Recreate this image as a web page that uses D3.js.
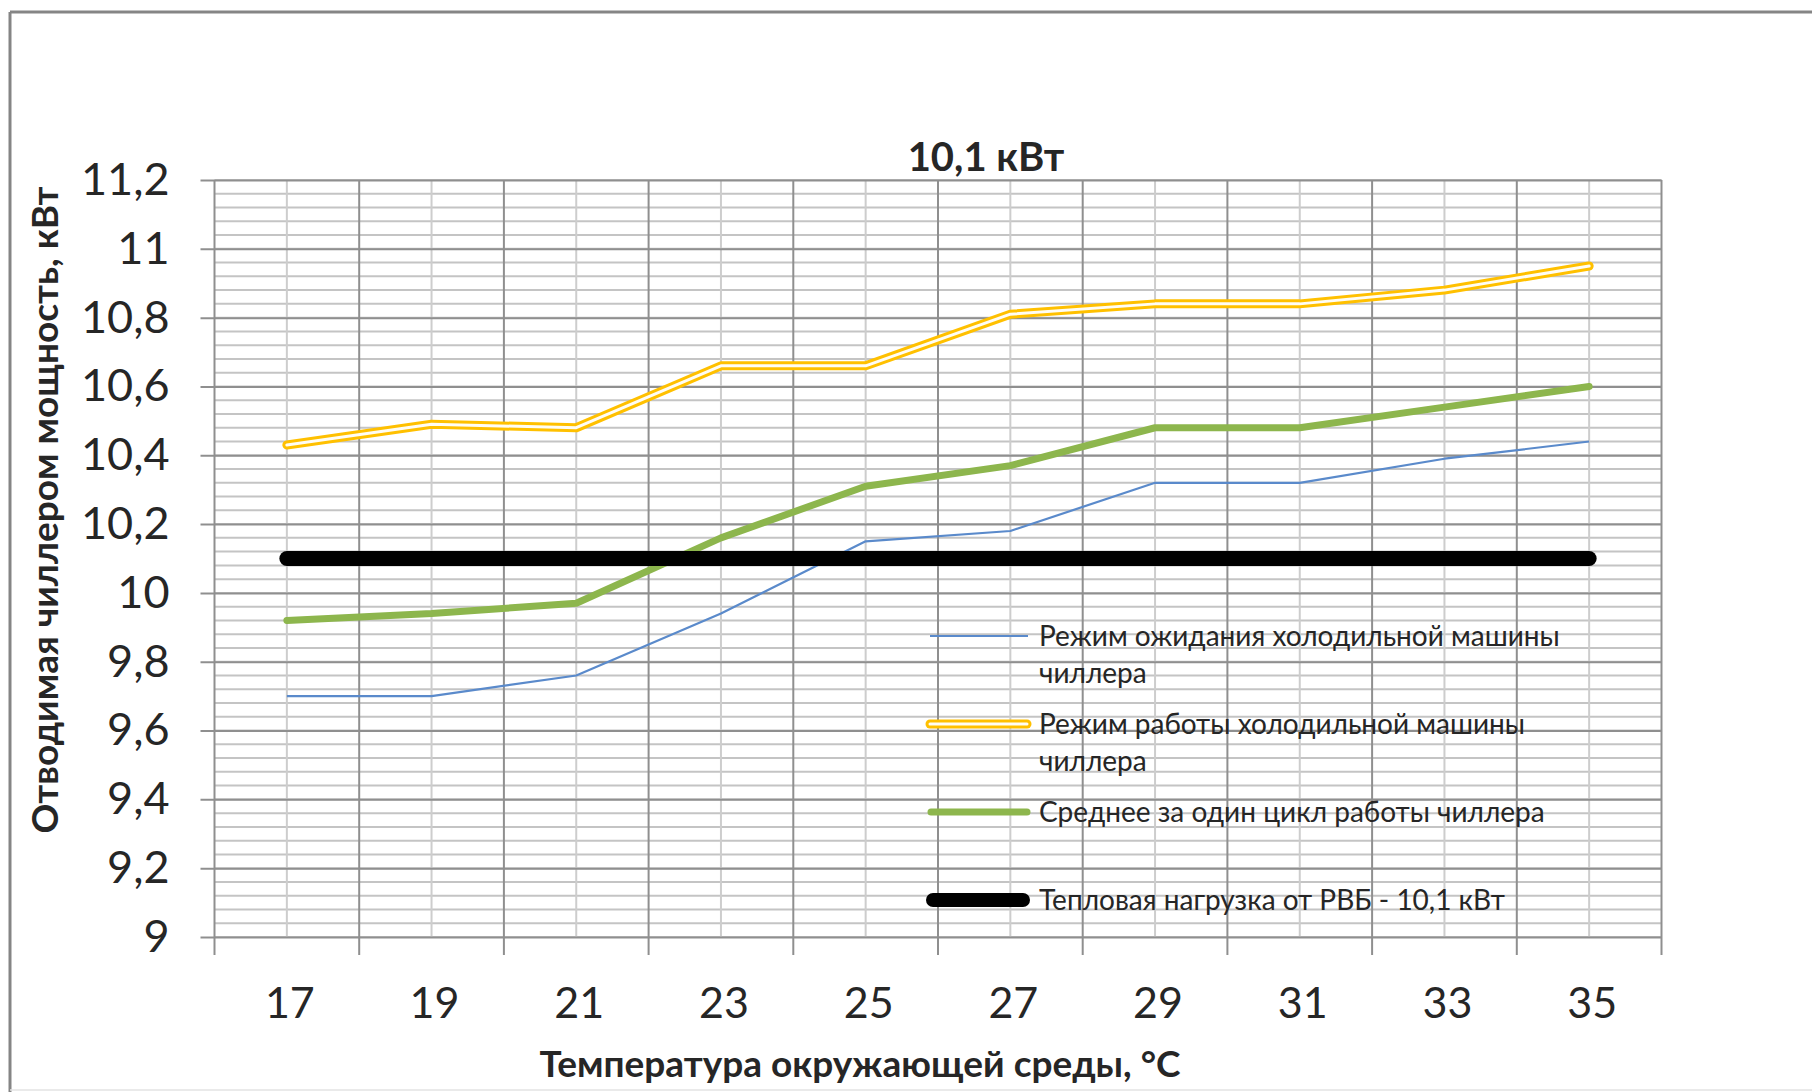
<!DOCTYPE html>
<html>
<head>
<meta charset="utf-8">
<script src="https://cdn.jsdelivr.net/npm/d3@7"></script>
<style>
  body { margin: 0; background: #fff; }
  text { font-family: Lato, "Open Sans", sans-serif; fill: #262626; }
</style>
</head>
<body>
<script>
// temperatures on the category axis
const temps = [17, 19, 21, 23, 25, 27, 29, 31, 33, 35];

// series, kW
const standby = [9.70, 9.70, 9.76, 9.94, 10.15, 10.18, 10.32, 10.32, 10.39, 10.44];
const working = [10.43, 10.49, 10.48, 10.66, 10.66, 10.81, 10.84, 10.84, 10.88, 10.95];
const average = [9.92, 9.94, 9.97, 10.16, 10.31, 10.37, 10.48, 10.48, 10.54, 10.60];
const heatLoad = [10.1, 10.1, 10.1, 10.1, 10.1, 10.1, 10.1, 10.1, 10.1, 10.1];

const yTicks = [9, 9.2, 9.4, 9.6, 9.8, 10, 10.2, 10.4, 10.6, 10.8, 11, 11.2];
const yMinorStep = 0.04;

const legendLabels = [
  ["Режим ожидания холодильной машины", "чиллера"],
  ["Режим работы холодильной машины", "чиллера"],
  ["Среднее за один цикл работы чиллера"],
  ["Тепловая нагрузка от РВБ - 10,1 кВт"]
];

const w = 1812, h = 1092;
const plot = { left: 214.5, right: 1661.5, top: 180, bottom: 937 };

const svg = d3.select("body")
  .append("svg")
  .attr("width", w)
  .attr("height", h);

// outer chart frame
svg.append("line").attr("x1", 10).attr("y1", 12).attr("x2", w).attr("y2", 12)
  .attr("stroke", "#858585").attr("stroke-width", 3);
svg.append("line").attr("x1", 10).attr("y1", 12).attr("x2", 10).attr("y2", h)
  .attr("stroke", "#858585").attr("stroke-width", 3);
svg.append("line").attr("x1", 10).attr("y1", 1090).attr("x2", w).attr("y2", 1090)
  .attr("stroke", "#e3e3e3").attr("stroke-width", 1.5);

const x = d3.scaleBand()
  .domain(temps)
  .range([plot.left, plot.right])
  .padding(0);
const cx = d => x(d) + x.bandwidth() / 2;

const y = d3.scaleLinear()
  .domain([9, 11.2])
  .range([plot.bottom, plot.top]);

const grid = svg.append("g");

// minor horizontal gridlines
const minorY = d3.range(0, Math.round((11.2 - 9) / yMinorStep) + 1).map(i => 9 + i * yMinorStep);
grid.selectAll(".minor-y")
  .data(minorY)
  .enter()
  .append("line")
  .attr("x1", plot.left).attr("x2", plot.right)
  .attr("y1", d => y(d)).attr("y2", d => y(d))
  .attr("stroke", "#c4c4c4")
  .attr("stroke-width", 2);

// minor vertical gridlines (category centres)
grid.selectAll(".minor-x")
  .data(temps)
  .enter()
  .append("line")
  .attr("x1", d => cx(d)).attr("x2", d => cx(d))
  .attr("y1", plot.top).attr("y2", plot.bottom)
  .attr("stroke", "#cdcdcd")
  .attr("stroke-width", 2);

// major vertical gridlines (category boundaries)
const bounds = temps.map(d => x(d)).concat([plot.right]);
grid.selectAll(".major-x")
  .data(bounds)
  .enter()
  .append("line")
  .attr("x1", d => d).attr("x2", d => d)
  .attr("y1", plot.top).attr("y2", plot.bottom + 18)
  .attr("stroke", "#8f8f8f")
  .attr("stroke-width", 2);

// major horizontal gridlines + y axis
const yAxis = d3.axisLeft(y)
  .tickValues(yTicks)
  .tickSize(plot.right - plot.left + 14)
  .tickSizeOuter(0)
  .tickPadding(31)
  .tickFormat(d => String(d).replace(".", ","));

const yg = svg.append("g")
  .attr("transform", `translate(${plot.right}, 0)`)
  .call(yAxis);
yg.select(".domain").remove();
yg.selectAll(".tick line").attr("stroke", "#8f8f8f").attr("stroke-width", 2);
yg.selectAll(".tick text")
  .style("font-size", "45px")
  .attr("fill", "#262626");

// x axis labels
const xAxis = d3.axisBottom(x)
  .tickSize(0)
  .tickPadding(50)
  .tickFormat(d => d);
const xg = svg.append("g")
  .attr("transform", `translate(3, ${plot.bottom})`)
  .call(xAxis);
xg.select(".domain").remove();
xg.selectAll(".tick text").style("font-size", "43px").attr("fill", "#262626");

// series
const line = d3.line()
  .x((d, i) => cx(temps[i]))
  .y(d => y(d));

const series = svg.append("g");

series.append("path")
  .attr("d", line(working))
  .attr("fill", "none")
  .attr("stroke", "#FFC000")
  .attr("stroke-width", 9)
  .attr("stroke-linejoin", "round")
  .attr("stroke-linecap", "round");
series.append("path")
  .attr("d", line(working))
  .attr("fill", "none")
  .attr("stroke", "#fffdf5")
  .attr("stroke-width", 3)
  .attr("stroke-linejoin", "round")
  .attr("stroke-linecap", "round");

series.append("path")
  .attr("d", line(average))
  .attr("fill", "none")
  .attr("stroke", "#8DB64D")
  .attr("stroke-width", 7)
  .attr("stroke-linejoin", "round")
  .attr("stroke-linecap", "round");

series.append("path")
  .attr("d", line(standby))
  .attr("fill", "none")
  .attr("stroke", "#5A8ACB")
  .attr("stroke-width", 2.2)
  .attr("stroke-linejoin", "round");

series.append("path")
  .attr("d", line(heatLoad))
  .attr("fill", "none")
  .attr("stroke", "#000")
  .attr("stroke-width", 15)
  .attr("stroke-linecap", "round");

// title and axis titles
svg.append("text")
  .attr("x", 986).attr("y", 171)
  .attr("text-anchor", "middle")
  .style("font-size", "40px")
  .style("font-weight", "bold")
  .attr("fill", "#000")
  .text("10,1 кВт");

svg.append("text")
  .attr("transform", "translate(58, 510) rotate(-90)")
  .attr("text-anchor", "middle")
  .style("font-size", "37px")
  .style("font-weight", "bold")
  .attr("fill", "#000")
  .text("Отводимая чиллером мощность, кВт");

svg.append("text")
  .attr("x", 860).attr("y", 1077)
  .attr("text-anchor", "middle")
  .style("font-size", "37px")
  .style("font-weight", "bold")
  .attr("fill", "#000")
  .text("Температура окружающей среды, °С");

// legend
const legendY = [636, 724, 812, 900];
const legend = svg.append("g").attr("id", "legend");

legend.append("line")
  .attr("x1", 930).attr("x2", 1028).attr("y1", legendY[0]).attr("y2", legendY[0])
  .attr("stroke", "#5A8ACB").attr("stroke-width", 2.2);
legend.append("line")
  .attr("x1", 930).attr("x2", 1027).attr("y1", legendY[1]).attr("y2", legendY[1])
  .attr("stroke", "#FFC000").attr("stroke-width", 9).attr("stroke-linecap", "round");
legend.append("line")
  .attr("x1", 930).attr("x2", 1027).attr("y1", legendY[1]).attr("y2", legendY[1])
  .attr("stroke", "#fffdf5").attr("stroke-width", 3).attr("stroke-linecap", "round");
legend.append("line")
  .attr("x1", 931).attr("x2", 1027).attr("y1", legendY[2]).attr("y2", legendY[2])
  .attr("stroke", "#8DB64D").attr("stroke-width", 7).attr("stroke-linecap", "round");
legend.append("line")
  .attr("x1", 933).attr("x2", 1023).attr("y1", legendY[3]).attr("y2", legendY[3])
  .attr("stroke", "#000").attr("stroke-width", 14).attr("stroke-linecap", "round");

legendLabels.forEach((lines, i) => {
  lines.forEach((txt, j) => {
    legend.append("text")
      .attr("x", 1039)
      .attr("y", legendY[i] + 10 + j * 37)
      .style("font-size", "28px")
      .attr("fill", "#333")
      .text(txt);
  });
});
</script>
</body>
</html>
